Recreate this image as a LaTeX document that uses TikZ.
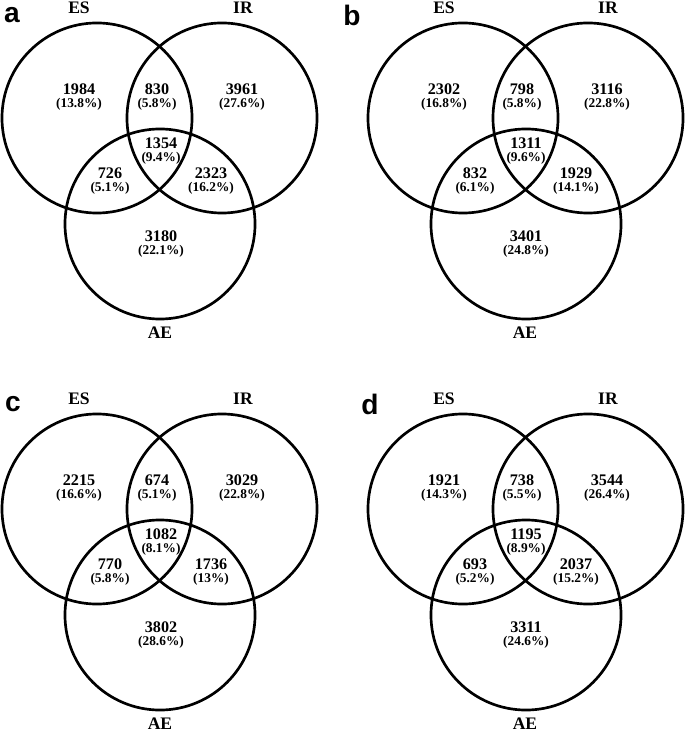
\documentclass[tikz,border=0pt]{standalone}
\usepackage{fontspec}
\setmainfont{Liberation Serif}
\newfontfamily\tagfont{Liberation Sans}
\usepackage{tikz}
\tikzstyle{vennset} = [circle, draw=black, line width=1.9pt, minimum size=4.75cm, inner sep=0pt]
\tikzstyle{setname} = [font=\fontsize{12.5}{13}\selectfont\bfseries, inner sep=0pt]
\tikzstyle{region} = [align=center, font=\fontsize{11.5}{9.6}\selectfont\bfseries, inner sep=0pt]
\tikzstyle{panel} = [font=\tagfont\fontsize{20}{20}\selectfont\bfseries, inner sep=0pt]
\newcommand{\vennval}[2]{
	#1\\{\fontsize{9.5}{9.6}\selectfont (#2\%)}
}

\begin{document}
\begin{tikzpicture}[x=0.025cm, y=-0.025cm]
	\useasboundingbox (0, 0) rectangle (685, 734);
	% a
	\node (tagA) at (12, 15) [panel] {a};
	\node (esA) at (97, 118) [vennset] {};
	\node (irA) at (222, 118) [vennset] {};
	\node (aeA) at (160, 224) [vennset] {};
	\node (esnameA) at (79, 8) [setname] {ES};
	\node (irnameA) at (243, 8) [setname] {IR};
	\node (aenameA) at (160, 333) [setname] {AE};
	\node (onlyesA) at (79, 97) [region] {\vennval{1984}{13.8}};
	\node (esirA) at (157, 97) [region] {\vennval{830}{5.8}};
	\node (onlyirA) at (242, 97) [region] {\vennval{3961}{27.6}};
	\node (allA) at (161, 151) [region] {\vennval{1354}{9.4}};
	\node (esaeA) at (110, 181) [region] {\vennval{726}{5.1}};
	\node (iraeA) at (211, 181) [region] {\vennval{2323}{16.2}};
	\node (onlyaeA) at (161, 244) [region] {\vennval{3180}{22.1}};
	% b
	\node (tagB) at (352, 15) [panel] {b};
	\node (esB) at (463, 118) [vennset] {};
	\node (irB) at (588, 118) [vennset] {};
	\node (aeB) at (526, 224) [vennset] {};
	\node (esnameB) at (444, 8) [setname] {ES};
	\node (irnameB) at (608, 8) [setname] {IR};
	\node (aenameB) at (525, 333) [setname] {AE};
	\node (onlyesB) at (444, 97) [region] {\vennval{2302}{16.8}};
	\node (esirB) at (522, 97) [region] {\vennval{798}{5.8}};
	\node (onlyirB) at (607, 97) [region] {\vennval{3116}{22.8}};
	\node (allB) at (526, 151) [region] {\vennval{1311}{9.6}};
	\node (esaeB) at (475, 181) [region] {\vennval{832}{6.1}};
	\node (iraeB) at (576, 181) [region] {\vennval{1929}{14.1}};
	\node (onlyaeB) at (526, 244) [region] {\vennval{3401}{24.8}};
	% c
	\node (tagC) at (13, 404) [panel] {c};
	\node (esC) at (97, 509) [vennset] {};
	\node (irC) at (222, 509) [vennset] {};
	\node (aeC) at (160, 615) [vennset] {};
	\node (esnameC) at (79, 399) [setname] {ES};
	\node (irnameC) at (243, 399) [setname] {IR};
	\node (aenameC) at (160, 724) [setname] {AE};
	\node (onlyesC) at (79, 488) [region] {\vennval{2215}{16.6}};
	\node (esirC) at (157, 488) [region] {\vennval{674}{5.1}};
	\node (onlyirC) at (242, 488) [region] {\vennval{3029}{22.8}};
	\node (allC) at (161, 542) [region] {\vennval{1082}{8.1}};
	\node (esaeC) at (110, 572) [region] {\vennval{770}{5.8}};
	\node (iraeC) at (211, 572) [region] {\vennval{1736}{13}};
	\node (onlyaeC) at (161, 635) [region] {\vennval{3802}{28.6}};
	% d
	\node (tagD) at (370, 404) [panel] {d};
	\node (esD) at (463, 509) [vennset] {};
	\node (irD) at (588, 509) [vennset] {};
	\node (aeD) at (526, 615) [vennset] {};
	\node (esnameD) at (444, 399) [setname] {ES};
	\node (irnameD) at (608, 399) [setname] {IR};
	\node (aenameD) at (525, 724) [setname] {AE};
	\node (onlyesD) at (444, 488) [region] {\vennval{1921}{14.3}};
	\node (esirD) at (522, 488) [region] {\vennval{738}{5.5}};
	\node (onlyirD) at (607, 488) [region] {\vennval{3544}{26.4}};
	\node (allD) at (526, 542) [region] {\vennval{1195}{8.9}};
	\node (esaeD) at (475, 572) [region] {\vennval{693}{5.2}};
	\node (iraeD) at (576, 572) [region] {\vennval{2037}{15.2}};
	\node (onlyaeD) at (526, 635) [region] {\vennval{3311}{24.6}};
\end{tikzpicture}
\end{document}
